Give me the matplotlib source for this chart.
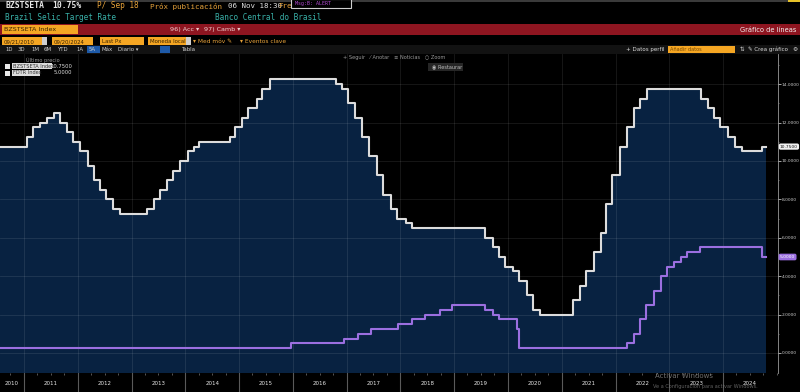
import matplotlib
matplotlib.use("Agg")
import matplotlib.pyplot as plt
import matplotlib.dates as mdates
from matplotlib.patches import Rectangle
from matplotlib.transforms import blended_transform_factory
import pandas as pd
import numpy as np

# ---------------- data ----------------
selic_dates = ['2010-07-21', '2011-01-20', '2011-03-03', '2011-04-21', '2011-06-09', '2011-07-21',
               '2011-09-01', '2011-10-20', '2011-12-01', '2012-01-19', '2012-03-08', '2012-04-19',
               '2012-05-31', '2012-07-12', '2012-08-30', '2012-10-11', '2013-04-18', '2013-05-30',
               '2013-07-11', '2013-08-29', '2013-10-10', '2013-11-28', '2014-01-16', '2014-02-27',
               '2014-04-03', '2014-10-30', '2014-12-04', '2015-01-22', '2015-03-05', '2015-04-30',
               '2015-06-04', '2015-07-30', '2016-10-20', '2016-12-01', '2017-01-12', '2017-02-23',
               '2017-04-13', '2017-06-01', '2017-07-27', '2017-09-07', '2017-10-26', '2017-12-07',
               '2018-02-08', '2018-03-22', '2019-08-01', '2019-09-19', '2019-10-31', '2019-12-12',
               '2020-02-06', '2020-03-19', '2020-05-07', '2020-06-18', '2020-08-06', '2021-03-18',
               '2021-05-06', '2021-06-17', '2021-08-05', '2021-09-23', '2021-10-28', '2021-12-09',
               '2022-02-03', '2022-03-17', '2022-05-05', '2022-06-16', '2022-08-04', '2023-08-03',
               '2023-09-21', '2023-11-02', '2023-12-14', '2024-02-01', '2024-03-21', '2024-05-09',
               '2024-09-19', '2024-10-20']
selic_values = [10.75, 11.25, 11.75, 12.00, 12.25, 12.50,
                12.00, 11.50, 11.00, 10.50, 9.75, 9.00,
                8.50, 8.00, 7.50, 7.25, 7.50, 8.00,
                8.50, 9.00, 9.50, 10.00, 10.50, 10.75,
                11.00, 11.25, 11.75, 12.25, 12.75, 13.25,
                13.75, 14.25, 14.00, 13.75, 13.00, 12.25,
                11.25, 10.25, 9.25, 8.25, 7.50, 7.00,
                6.75, 6.50, 6.00, 5.50, 5.00, 4.50,
                4.25, 3.75, 3.00, 2.25, 2.00, 2.75,
                3.50, 4.25, 5.25, 6.25, 7.75, 9.25,
                10.75, 11.75, 12.75, 13.25, 13.75, 13.25,
                12.75, 12.25, 11.75, 11.25, 10.75, 10.50,
                10.75, 10.75]

fdtr_dates = ['2010-07-21', '2015-12-17', '2016-12-15', '2017-03-16', '2017-06-15', '2017-12-14',
              '2018-03-22', '2018-06-14', '2018-09-27', '2018-12-20', '2019-08-01', '2019-09-19',
              '2019-10-31', '2020-03-04', '2020-03-16', '2022-03-17', '2022-05-05', '2022-06-16',
              '2022-07-28', '2022-09-22', '2022-11-03', '2022-12-15', '2023-02-02', '2023-03-23',
              '2023-05-04', '2023-07-27', '2024-09-19', '2024-10-20']
fdtr_values = [0.25, 0.50, 0.75, 1.00, 1.25, 1.50,
               1.75, 2.00, 2.25, 2.50, 2.25, 2.00,
               1.75, 1.25, 0.25, 0.50, 1.00, 1.75,
               2.50, 3.25, 4.00, 4.50, 4.75, 5.00,
               5.25, 5.50, 5.00, 5.00]

y_ticks = [0, 2, 4, 6, 8, 10, 12, 14]
years = list(range(2010, 2025))
selic_last = '10.7500'
fdtr_last = '5.0000'

# ---------------- figure ----------------
W, H = 800, 392
fig = plt.figure(figsize=(W / 100, H / 100), dpi=100)
fig.patch.set_facecolor('black')

MONO = 'DejaVu Sans Mono'
SANS = ['DejaVu Sans', 'Noto Sans']


def ftext(x, y, s, **kw):
    kw.setdefault('va', 'center')
    return fig.text(x / W, 1 - y / H, s, **kw)


def frect(x, y, w, h, **kw):
    r = Rectangle((x / W, 1 - (y + h) / H), w / W, h / H, transform=fig.transFigure, **kw)
    fig.add_artist(r)
    return r


# ---- header ----
frect(0, 0, 800, 1.5, color='#3a3a3a', lw=0)
frect(788, 0, 12, 2, color='#e6c229', lw=0)
ftext(5, 6, 'BZSTSETA', color='#e8e8e8', fontsize=5.8, family=MONO, weight='bold')
ftext(52, 6, '10.75%', color='#e8e8e8', fontsize=5.8, family=MONO, weight='bold')
ftext(97, 6, 'P/ Sep 18', color='#e8a33a', fontsize=5.6, family=MONO)
ftext(150, 6, 'Próx publicación', color='#e8a33a', fontsize=5.4, family=MONO)
ftext(228, 6, '06 Nov 18:30', color='#e0e0e0', fontsize=5.4, family=MONO)
ftext(278, 6.5, 'Frecuencia', color='#e8a33a', fontsize=5.4, family=MONO)
frect(291, -1, 60, 9, facecolor='black', edgecolor='#cfcfcf', lw=0.8, zorder=5)
ftext(295, 3, 'Msg:B: ALERT', color='#b04ad0', fontsize=3.6, family=MONO, zorder=6)
ftext(5, 17, 'Brazil Selic Target Rate', color='#39b0a8', fontsize=5.6, family=MONO)
ftext(215, 17, 'Banco Central do Brasil', color='#39b0a8', fontsize=5.6, family=MONO)

# red bar
frect(0, 24, 800, 11, color='#8e1520', lw=0)
frect(2, 25, 76, 9, color='#f5a623', lw=0)
ftext(4, 29.5, 'BZSTSETA Index', color='#3a2400', fontsize=4.6, family=SANS)
ftext(170, 29.5, '96) Acc ▾', color='#f0d0d0', fontsize=4.6, family=SANS)
ftext(204, 29.5, '97) Camb ▾', color='#f0d0d0', fontsize=4.6, family=SANS)
ftext(796, 29.5, 'Gráfico de líneas', color='#f2f2f2', fontsize=4.8, family=SANS, ha='right')

# row 4: orange inputs
for (x0, w0, lab) in [(2, 40, '09/21/2010'), (52, 41, '09/20/2024'), (100, 44, 'Last Px'),
                      (148, 38, 'Moneda local')]:
    frect(x0, 37.5, w0, 8, color='#f5a623', lw=0)
    ftext(x0 + 2, 41.5, lab, color='#3a2400', fontsize=3.9, family=SANS)
frect(42, 37.5, 5, 8, color='#cfcfcf', lw=0)
frect(186, 37.5, 5, 8, color='#cfcfcf', lw=0)
ftext(193, 41.5, '▾ Med móv ✎', color='#e8a33a', fontsize=4.2, family=SANS)
ftext(240, 41.5, '▾ Eventos clave', color='#e8a33a', fontsize=4.2, family=SANS)

# row 5: period buttons + right controls
frect(0, 45.5, 800, 8, color='#121212', lw=0)
px = 5
for lab in ['1D', '3D', '1M', '6M', 'YTD', '1A', '5A', 'Máx', 'Diario ▾']:
    if lab == '5A':
        frect(px - 2, 46, 13, 7, color='#1e5aa8', lw=0)
    ftext(px, 49.5, lab, color='#cfcfcf', fontsize=3.9, family=SANS)
    px += {'YTD': 19, 'Máx': 16, 'Diario ▾': 24}.get(lab, 13)
frect(160, 46, 10, 7, color='#1e5aa8', lw=0)
ftext(181, 49.5, 'Tabla', color='#cfcfcf', fontsize=3.9, family=SANS)
ftext(626, 49.5, '+ Datos perfil', color='#dcdcdc', fontsize=4.0, family=SANS)
frect(668, 46, 67, 7, color='#f5a623', lw=0)
ftext(670, 49.5, 'Añadir datos', color='#7a4a00', fontsize=3.6, family=SANS)
ftext(740, 49.5, '⇅', color='#dcdcdc', fontsize=4.0, family=SANS)
ftext(748, 49.5, '✎ Crea gráfico', color='#dcdcdc', fontsize=4.0, family=SANS)
ftext(795, 49.5, '⚙', color='#dcdcdc', fontsize=4.2, family=SANS, ha='center')

# ---------------- main plot ----------------
s_dates = pd.to_datetime(selic_dates)
f_dates = pd.to_datetime(fdtr_dates)

ytop_px, ybot_px = 54, 373
ax = fig.add_axes([0, 1 - ybot_px / H, 778 / W, (ybot_px - ytop_px) / H])
ax.set_facecolor('black')
v_per_px = 2 / 38.4
ylo = (353 - ybot_px) * v_per_px
yhi = (353 - ytop_px) * v_per_px
ax.set_ylim(ylo, yhi)
ax.set_xlim(pd.Timestamp('2010-07-22'), pd.Timestamp('2025-01-08'))

ax.fill_between(s_dates, selic_values, ylo, step='post', color='#082241', lw=0, zorder=1)
ax.step(s_dates, selic_values, where='post', color='#dcdcdc', lw=1.5, zorder=4)
ax.step(f_dates, fdtr_values, where='post', color='#9b6fe0', lw=1.5, zorder=4)

ax.set_xticks([pd.Timestamp(f'{y}-01-01') for y in years[1:]])
ax.tick_params(axis='x', length=0, labelbottom=False)
ax.grid(True, color='white', alpha=0.10, lw=0.6, zorder=2.5)
ax.set_axisbelow(False)

ax.yaxis.tick_right()
ax.set_yticks(y_ticks)
ax.set_yticks(np.arange(0, 16, 1), minor=True)
ax.set_yticklabels([f'{v:.4f}' for v in y_ticks])
ax.tick_params(axis='y', which='major', length=1.8, width=0.6, color='#bdbdbd', labelsize=3.2,
               labelcolor='#c8c8c8', pad=1.0)
ax.tick_params(axis='y', which='minor', length=1.0, width=0.5, color='#8a8a8a')
for sp in ['top', 'left', 'bottom']:
    ax.spines[sp].set_visible(False)
ax.spines['right'].set_color('#9a9a9a')
ax.spines['right'].set_linewidth(0.6)

tr = blended_transform_factory(ax.transAxes, ax.transData)
ax.text(1.0025, selic_values[-1], selic_last, transform=tr, fontsize=3.2, color='#111111',
        va='center', ha='left', clip_on=False, zorder=6,
        bbox=dict(boxstyle='round,pad=0.25,rounding_size=0.4', fc='#f2f2f2', ec='none'))
ax.text(1.0025, fdtr_values[-1], fdtr_last, transform=tr, fontsize=3.2, color='#ffffff',
        va='center', ha='left', clip_on=False, zorder=6,
        bbox=dict(boxstyle='round,pad=0.3,rounding_size=0.4', fc='#9b6fe0', ec='none'))

# legend (top-left)
ftext(26, 60, 'Último precio', color='#9a9a9a', fontsize=3.6, family=SANS)
for (yy, name, val, wbox) in [(66, 'BZSTSETA Index', selic_last, 40),
                              (73, 'FDTR Index', fdtr_last, 28)]:
    frect(5, yy - 2.5, 5, 5, facecolor='#e8e8e8', edgecolor='none')
    frect(12, yy - 3, wbox, 6, facecolor='#dcdcdc', edgecolor='none')
    ftext(13, yy, name, color='#333333', fontsize=3.6, family=SANS)
    ftext(72, yy, val, color='#dcdcdc', fontsize=3.8, family=SANS, ha='right')

# toolbar in plot
ftext(343, 57.5, '+ Seguir   ⁄ Anotar   ≡ Noticias   ○ Zoom', color='#9a9a9a', fontsize=3.6,
      family=SANS)
frect(428, 63, 35, 8, facecolor='#262626', edgecolor='none')
ftext(432, 67, '◉ Restaurar', color='#bdbdbd', fontsize=3.6, family=SANS)

# ---------------- bottom axis strip ----------------
ax2 = fig.add_axes([0, 0, 778 / W, 1 - ybot_px / H], sharex=ax)
ax2.set_facecolor('black')
ax2.set_ylim(0, 1)
for sp in ax2.spines.values():
    sp.set_visible(False)
x0, x1 = ax.get_xlim()
for y in years:
    a = max(mdates.date2num(pd.Timestamp(f'{y}-01-01')), x0)
    b = min(mdates.date2num(pd.Timestamp(f'{y + 1}-01-01')), x1)
    ax2.text((a + b) / 2, 0.45, str(y), color='#e6e6e6', fontsize=4.0, ha='center', va='center')
    if y > years[0]:
        ax2.axvline(mdates.date2num(pd.Timestamp(f'{y}-01-01')), color='#5a5a5a', lw=0.8)
ax2.set_yticks([])
ax2.xaxis.set_minor_locator(mdates.MonthLocator(bymonth=[1, 4, 7, 10]))
ax2.tick_params(axis='x', which='both', bottom=False, labelbottom=False, top=True,
                direction='in', length=1.5, width=0.5, color='#7a7a7a')
ax2.tick_params(axis='x', which='major', length=0)

# windows watermark
ftext(655, 376.5, 'Activar Windows', color='#8a8a8a', fontsize=5.0, family=SANS, alpha=0.8)
ftext(653, 386, 'Ve a Configuración para activar Windows.', color='#7a7a7a', fontsize=3.6,
      family=SANS, alpha=0.8)

fig.savefig('out.png', dpi=100, facecolor='black')
